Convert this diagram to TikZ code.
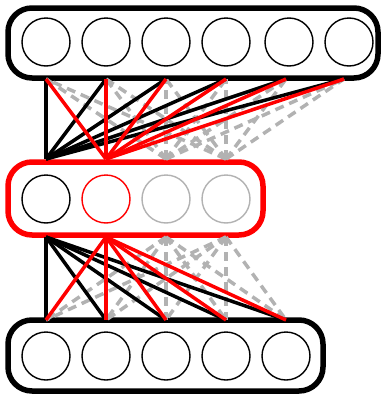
\documentclass[tikz,border=0pt]{standalone}
\begin{document}
\begin{tikzpicture}[x=1pt,y=-1pt,
  unit/.style={circle,draw,line width=1.4pt,minimum size=48pt,inner sep=0pt},
  layerbox/.style={rounded corners=24pt,line width=5.5pt},
  blk/.style={black,line width=3.5pt},
  rd/.style={red,line width=3.5pt},
  gdash/.style={gray!60,line width=3.5pt,dash pattern=on 9pt off 6pt}]
\useasboundingbox (0,0) rectangle (381,394);
% boxes
\draw[layerbox,black] (8,8) rectangle (378,78);
\draw[layerbox,red] (8,162) rectangle (263,235);
\draw[layerbox,black] (8,320) rectangle (323,391);
% top circles
\foreach \i/\x in {1/46,2/106,3/166,4/226,5/289,6/349}
  \node[unit] (t\i) at (\x,42) {};
% middle circles
\node[unit,draw=black] (m1) at (46,199) {};
\node[unit,draw=red] (m2) at (106,199) {};
\node[unit,draw=gray!60] (m3) at (166,199) {};
\node[unit,draw=gray!60] (m4) at (226,199) {};
% bottom circles
\foreach \i/\x in {1/46,2/106,3/166,4/226,5/286}
  \node[unit] (b\i) at (\x,356) {};
% anchor coordinates
\foreach \i/\x in {1/46,2/106,3/166,4/226,5/286,6/344}
  \coordinate (ta\i) at (\x,79);
\foreach \i/\x in {1/46,2/106,3/166,4/226}{
  \coordinate (mt\i) at (\x,159);
  \coordinate (mb\i) at (\x,237);}
\foreach \i/\x in {1/46,2/106,3/166,4/226,5/286}
  \coordinate (ba\i) at (\x,320);
% gray dashed
\foreach \i in {1,...,6}{
  \draw[gdash] (mt3) -- (ta\i);
  \draw[gdash] (mt4) -- (ta\i);}
\foreach \i in {1,...,5}{
  \draw[gdash] (mb3) -- (ba\i);
  \draw[gdash] (mb4) -- (ba\i);}
% black
\foreach \i in {1,...,6}
  \draw[blk] (mt1) -- (ta\i);
\foreach \i in {1,...,5}
  \draw[blk] (mb1) -- (ba\i);
% red
\foreach \i in {1,...,6}
  \draw[rd] (mt2) -- (ta\i);
\foreach \i in {1,...,5}
  \draw[rd] (mb2) -- (ba\i);
\end{tikzpicture}
\end{document}
